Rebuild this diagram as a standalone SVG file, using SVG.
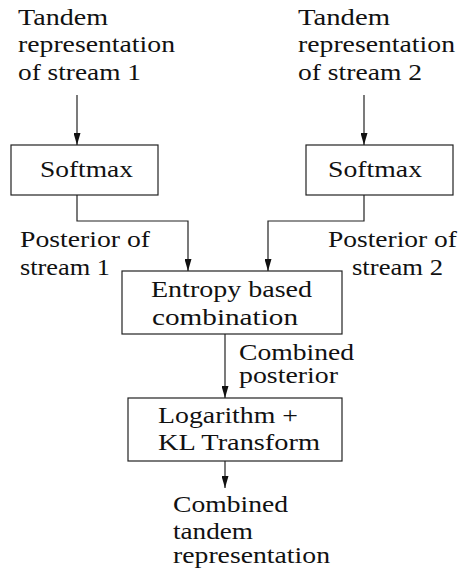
<svg xmlns="http://www.w3.org/2000/svg" width="461" height="575" viewBox="0 0 461 575">
  <style>
    .box { fill: #ffffff; stroke: #222222; stroke-width: 1.2; }
    .wire { fill: none; stroke: #222222; stroke-width: 1.2; }
    text { font-family: "Liberation Serif", "Times New Roman", serif; font-size: 22.5px; fill: #111111; }
  </style>
  <defs>
    <marker id="arrow" markerUnits="userSpaceOnUse" markerWidth="12" markerHeight="7" refX="12" refY="3.5" orient="auto">
      <path d="M0,0 L12,3.5 L0,7 z" fill="#111111"/>
    </marker>
  </defs>
  <rect width="461" height="575" fill="#ffffff"/>

  <!-- free-standing labels -->
  <g id="input1">
    <text x="18" y="25" textLength="90" lengthAdjust="spacingAndGlyphs">Tandem</text>
    <text x="18" y="52" textLength="157" lengthAdjust="spacingAndGlyphs">representation</text>
    <text x="18" y="80" textLength="123" lengthAdjust="spacingAndGlyphs">of stream 1</text>
  </g>
  <g id="input2">
    <text x="298" y="25" textLength="92" lengthAdjust="spacingAndGlyphs">Tandem</text>
    <text x="298" y="52" textLength="157" lengthAdjust="spacingAndGlyphs">representation</text>
    <text x="298" y="80" textLength="124" lengthAdjust="spacingAndGlyphs">of stream 2</text>
  </g>

  <g id="softmax1">
    <rect class="box" x="11" y="145" width="147" height="50"/>
    <text x="40" y="177" textLength="93" lengthAdjust="spacingAndGlyphs">Softmax</text>
  </g>
  <g id="softmax2">
    <rect class="box" x="306" y="145" width="147" height="50"/>
    <text x="328" y="177" textLength="94" lengthAdjust="spacingAndGlyphs">Softmax</text>
  </g>

  <g id="posterior1">
    <text x="20" y="247" textLength="130" lengthAdjust="spacingAndGlyphs">Posterior of</text>
    <text x="20" y="275" textLength="90" lengthAdjust="spacingAndGlyphs">stream 1</text>
  </g>
  <g id="posterior2">
    <text x="328" y="247" textLength="129" lengthAdjust="spacingAndGlyphs">Posterior of</text>
    <text x="352" y="275" textLength="91" lengthAdjust="spacingAndGlyphs">stream 2</text>
  </g>

  <g id="entropy">
    <rect class="box" x="122" y="271" width="220" height="63"/>
    <text x="151" y="297" textLength="161" lengthAdjust="spacingAndGlyphs">Entropy based</text>
    <text x="152" y="325" textLength="146" lengthAdjust="spacingAndGlyphs">combination</text>
  </g>

  <g id="combined-posterior">
    <text x="239" y="360" textLength="115" lengthAdjust="spacingAndGlyphs">Combined</text>
    <text x="239" y="383" textLength="99" lengthAdjust="spacingAndGlyphs">posterior</text>
  </g>

  <g id="logkl">
    <rect class="box" x="128" y="398" width="214" height="63"/>
    <text x="158" y="423" textLength="140" lengthAdjust="spacingAndGlyphs">Logarithm +</text>
    <text x="158" y="450" textLength="162" lengthAdjust="spacingAndGlyphs">KL Transform</text>
  </g>

  <g id="output">
    <text x="173" y="512" textLength="115" lengthAdjust="spacingAndGlyphs">Combined</text>
    <text x="173" y="539" textLength="80" lengthAdjust="spacingAndGlyphs">tandem</text>
    <text x="173" y="563" textLength="157" lengthAdjust="spacingAndGlyphs">representation</text>
  </g>

  <g id="connectors">
    <path class="wire" d="M77,95 V145" marker-end="url(#arrow)"/>
    <path class="wire" d="M364,95 V145" marker-end="url(#arrow)"/>
    <path class="wire" d="M77,195 V221 H188 V271" marker-end="url(#arrow)"/>
    <path class="wire" d="M364,195 V221 H268 V271" marker-end="url(#arrow)"/>
    <path class="wire" d="M225,334 V398" marker-end="url(#arrow)"/>
    <path class="wire" d="M225,461 V488" marker-end="url(#arrow)"/>
  </g>
</svg>
